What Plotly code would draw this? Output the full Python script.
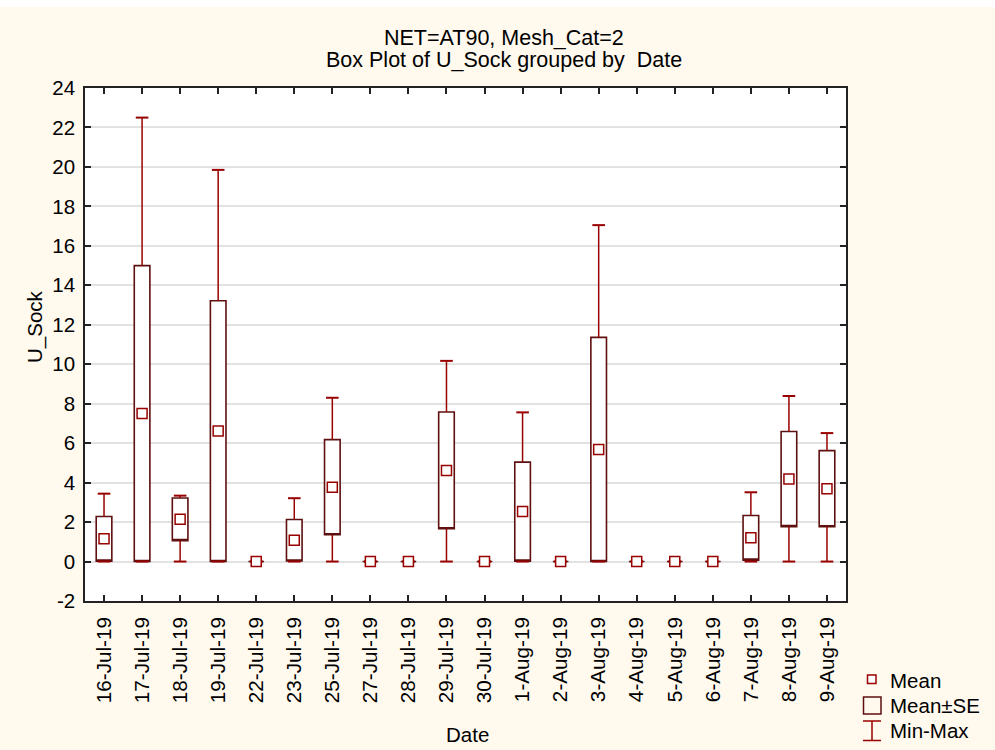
import plotly.graph_objects as go

# ---------------- data ----------------
dates = ["16-Jul-19", "17-Jul-19", "18-Jul-19", "19-Jul-19", "22-Jul-19",
         "23-Jul-19", "25-Jul-19", "27-Jul-19", "28-Jul-19", "29-Jul-19",
         "30-Jul-19", "1-Aug-19", "2-Aug-19", "3-Aug-19", "4-Aug-19",
         "5-Aug-19", "6-Aug-19", "7-Aug-19", "8-Aug-19", "9-Aug-19"]
mean = [1.15, 7.50, 2.14, 6.61, 0.0, 1.08, 3.77, 0.0, 0.0, 4.62,
        0.0, 2.53, 0.0, 5.68, 0.0, 0.0, 0.0, 1.20, 4.18, 3.69]
se = [1.13, 7.50, 1.08, 6.61, 0.0, 1.05, 2.41, 0.0, 0.0, 2.96,
      0.0, 2.51, 0.0, 5.68, 0.0, 0.0, 0.0, 1.13, 2.41, 1.93]
vmin = [0.0] * 20
vmax = [3.44, 22.5, 3.34, 19.85, 0.0, 3.21, 8.30, 0.0, 0.0, 10.17,
        0.0, 7.56, 0.0, 17.05, 0.0, 0.0, 0.0, 3.51, 8.39, 6.51]
y_tickvals = list(range(-2, 25, 2))
y_ticktext = [str(v) for v in y_tickvals]

title_line1 = "NET=AT90, Mesh_Cat=2"
title_line2 = "Box Plot of U_Sock grouped by  Date"
x_title = "Date"
y_title = "U_Sock"
legend_labels = ["Mean", "Mean±SE", "Min-Max"]

# ---------------- styles ----------------
BOX_COLOR = "#5E1010"
RED = "#990000"
AXIS = "#222222"
FONT = "Liberation Sans, Arial, sans-serif"
PAPER = "#FFF9EE"
W, H = 995, 750
L, R, T, B = 85, 846, 88, 601


def fx(x):
    return (x - L) / (R - L)


def fy(y):
    return (B - y) / (B - T)


low = [m - s for m, s in zip(mean, se)]
high = [m + s for m, s in zip(mean, se)]

fig = go.Figure()

# whiskers (min -> box bottom, box top -> max)
wx, wy = [], []
for d, lo, hi, mn, mx in zip(dates, low, high, vmin, vmax):
    wx += [d, d, None, d, d, None]
    wy += [mx, hi, None, lo, mn, None]
fig.add_trace(go.Scatter(x=wx, y=wy, mode="lines",
                         line=dict(color=RED, width=1.5),
                         hoverinfo="skip", showlegend=False))
# whisker caps
fig.add_trace(go.Scatter(x=dates + dates, y=vmax + vmin, mode="markers",
                         marker=dict(symbol="line-ew", size=9,
                                     line=dict(color=RED, width=2)),
                         showlegend=False))
# Mean ± SE boxes
fig.add_trace(go.Box(x=dates, q1=low, median=low, q3=high,
                     lowerfence=low, upperfence=high,
                     width=0.41, fillcolor="white",
                     line=dict(color=BOX_COLOR, width=1.6),
                     boxpoints=False, showlegend=False))
# means
fig.add_trace(go.Scatter(x=dates, y=mean, mode="markers",
                         marker=dict(symbol="square", size=10, color="white",
                                     line=dict(color=RED, width=1.5)),
                         showlegend=False))

shapes = []
annotations = []

# white strip on top of page
shapes.append(dict(type="rect", xref="paper", yref="paper",
                   x0=fx(0), x1=fx(W), y0=fy(7), y1=fy(0),
                   fillcolor="white", line=dict(width=0), layer="below"))

# titles
annotations.append(dict(text=title_line1, xref="paper", yref="paper",
                        x=fx(504), y=fy(38), xanchor="center", yanchor="middle",
                        showarrow=False, font=dict(size=21.5, color="black", family=FONT)))
annotations.append(dict(text=title_line2, xref="paper", yref="paper",
                        x=fx(504), y=fy(60), xanchor="center", yanchor="middle",
                        showarrow=False, font=dict(size=21.5, color="black", family=FONT)))
# axis titles
annotations.append(dict(text=x_title, xref="paper", yref="paper",
                        x=fx(467), y=fy(735), xanchor="center", yanchor="middle",
                        showarrow=False, font=dict(size=20.5, color="black", family=FONT)))
annotations.append(dict(text=y_title, xref="paper", yref="paper",
                        x=fx(35), y=fy(327), xanchor="center", yanchor="middle",
                        textangle=-90,
                        showarrow=False, font=dict(size=20.5, color="black", family=FONT)))

# legend
shapes.append(dict(type="rect", xref="paper", yref="paper",
                   x0=fx(867.5), x1=fx(876), y0=fy(683.5), y1=fy(675),
                   fillcolor="white", line=dict(color=RED, width=1.5)))
shapes.append(dict(type="rect", xref="paper", yref="paper",
                   x0=fx(863.5), x1=fx(881), y0=fy(714), y1=fy(697),
                   fillcolor=PAPER, line=dict(color=BOX_COLOR, width=1.5)))
shapes.append(dict(type="line", xref="paper", yref="paper",
                   x0=fx(863), x1=fx(881), y0=fy(721), y1=fy(721),
                   line=dict(color=RED, width=1.5)))
shapes.append(dict(type="line", xref="paper", yref="paper",
                   x0=fx(863), x1=fx(881), y0=fy(740.5), y1=fy(740.5),
                   line=dict(color=RED, width=1.5)))
shapes.append(dict(type="line", xref="paper", yref="paper",
                   x0=fx(872), x1=fx(872), y0=fy(721), y1=fy(740.5),
                   line=dict(color=RED, width=1.5)))
for lab, yc in zip(legend_labels, [680, 705, 730]):
    annotations.append(dict(text=lab, xref="paper", yref="paper",
                            x=fx(888), y=fy(yc), xanchor="left", yanchor="middle",
                            showarrow=False,
                            font=dict(size=20.5, color="black", family=FONT)))

fig.update_layout(
    width=W, height=H,
    margin=dict(l=L, r=W - R, t=T, b=H - B, pad=0),
    paper_bgcolor=PAPER, plot_bgcolor="white",
    font=dict(family=FONT, size=20, color="black"),
    showlegend=False,
    shapes=shapes, annotations=annotations,
)
fig.update_xaxes(type="category", range=[-0.5, 19.5],
                 categoryorder="array", categoryarray=dates,
                 tickangle=-90, ticks="inside", ticklen=6, tickwidth=1.5,
                 tickcolor=AXIS, showline=True, linecolor=AXIS, linewidth=1.5,
                 mirror="allticks", showgrid=False, zeroline=False,
                 ticklabelstandoff=6, automargin=False,
                 tickfont=dict(size=20.7, family=FONT, color="black"))
fig.update_yaxes(range=[-2, 24], tickvals=y_tickvals, ticktext=y_ticktext,
                 ticks="inside", ticklen=6, tickwidth=1.5, tickcolor=AXIS,
                 showline=True, linecolor=AXIS, linewidth=1.5,
                 mirror="allticks", showgrid=True, gridcolor="#E2E2E2",
                 gridwidth=1.5, zeroline=False, ticklabelstandoff=4,
                 automargin=False,
                 tickfont=dict(size=20.5, family=FONT, color="black"))

fig.write_html(
    "out.html",
    config={"displayModeBar": False},
    post_script="document.body.style.margin='0px';"
                "document.body.style.overflow='hidden';",
)
